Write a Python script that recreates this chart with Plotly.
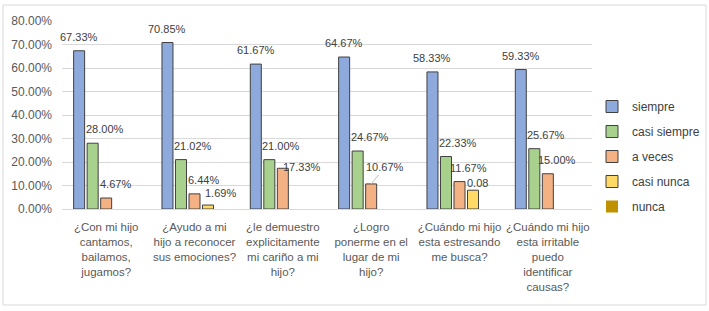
import plotly.graph_objects as go

categories = [
    "¿Con mi hijo<br>cantamos,<br>bailamos,<br>jugamos?",
    "¿Ayudo a mi<br>hijo a reconocer<br>sus emociones?",
    "¿le demuestro<br>explicitamente<br>mi cariño a mi<br>hijo?",
    "¿Logro<br>ponerme en el<br>lugar de mi<br>hijo?",
    "¿Cuándo mi hijo<br>esta estresando<br>me busca?",
    "¿Cuándo mi hijo<br>esta irritable<br>puedo<br>identificar<br>causas?",
]
series_names = ["siempre", "casi siempre", "a veces", "casi nunca", "nunca"]
siempre = [0.6733, 0.7085, 0.6167, 0.6467, 0.5833, 0.5933]
casi_siempre = [0.2800, 0.2102, 0.2100, 0.2467, 0.2233, 0.2567]
a_veces = [0.0467, 0.0644, 0.1733, 0.1067, 0.1167, 0.1500]
casi_nunca = [None, 0.0169, None, None, 0.08, None]
nunca = [0, 0, 0, 0, 0, 0]
label_casi_nunca = ["", "1.69%", "", "", "0.08", ""]
y_ticks = [0, 0.1, 0.2, 0.3, 0.4, 0.5, 0.6, 0.7, 0.8]

values = [siempre, casi_siempre, a_veces, casi_nunca, nunca]
colors = ["#8EA9DB", "#A9D18E", "#F4B183", "#FFD966", "#BF9000"]

FONT = "Liberation Sans, Arial"
bargap = 0.235
bargroupgap = 0.185
n = len(series_names)

fig = go.Figure()
for i, (name, vals, col) in enumerate(zip(series_names, values, colors)):
    fig.add_trace(go.Bar(
        x=list(range(len(categories))), y=vals, name=name,
        marker=dict(color=col, line=dict(color="#404040", width=0 if name == "nunca" else 1)),
        legendgroup=name,
    ))

# data labels
series_xshift = [0, 12, 9, 9]
overrides = {(2, 2): (19, 1), (3, 4): (4, 7), (3, 1): (12, 12)}
step = (1 - bargap) / n
for i in range(4):
    vals = values[i]
    for j, v in enumerate(vals):
        if v is None:
            continue
        txt = label_casi_nunca[j] if i == 3 else f"{v*100:.2f}%"
        xs, ys = overrides.get((i, j), (series_xshift[i], 14))
        xpos = j + (i - (n - 1) / 2) * step
        lf = dict(size=11, color="#404040", family=FONT)
        if (i, j) == (2, 3):
            fig.add_annotation(x=xpos, y=v, text=txt, showarrow=True, arrowhead=0,
                               arrowwidth=1, arrowcolor="#BFBFBF", ax=14, ay=-17,
                               standoff=0, font=lf)
        else:
            fig.add_annotation(x=xpos, y=v, text=txt, showarrow=False,
                               xshift=xs, yshift=ys, font=lf)

# outer frame
L, R, T, B = 62, 117, 21, 102
W, H = 709, 311
pw, ph = W - L - R, H - T - B
fig.add_shape(type="rect", xref="paper", yref="paper",
              x0=(3 - L) / pw, x1=(706 - L) / pw,
              y0=(H - B - 305) / ph, y1=(H - B - 5) / ph,
              line=dict(color="#D9D9D9", width=1), layer="below")

fig.update_layout(
    width=W, height=H,
    margin=dict(l=L, r=R, t=T, b=B, autoexpand=False),
    paper_bgcolor="white", plot_bgcolor="white",
    barmode="group", bargap=bargap, bargroupgap=bargroupgap,
    font=dict(family=FONT, size=12, color="#595959"),
    legend=dict(x=(592 - L) / pw, y=(H - B - 92) / ph, xanchor="left", yanchor="top",
                font=dict(size=12, color="#404040", family=FONT), tracegroupgap=6,
                itemwidth=30),
    showlegend=True,
)
fig.update_xaxes(
    tickmode="array", tickvals=list(range(len(categories))), ticktext=categories,
    range=[-0.5, len(categories) - 0.5], automargin=False,
    showline=True, linecolor="#D9D9D9", linewidth=1, ticks="",
    ticklabelstandoff=7,
    tickfont=dict(size=11.5, color="#595959", family=FONT), tickangle=0,
)
fig.update_yaxes(
    range=[0, 0.8], tickvals=y_ticks, tickformat=".2%", automargin=False,
    showgrid=True, gridcolor="#D9D9D9", gridwidth=1, zeroline=False,
    ticklabelstandoff=9,
    tickfont=dict(size=12, color="#595959", family=FONT),
)

fig.write_html("out.html", config={"displayModeBar": False},
               post_script="document.body.style.margin='0';")
